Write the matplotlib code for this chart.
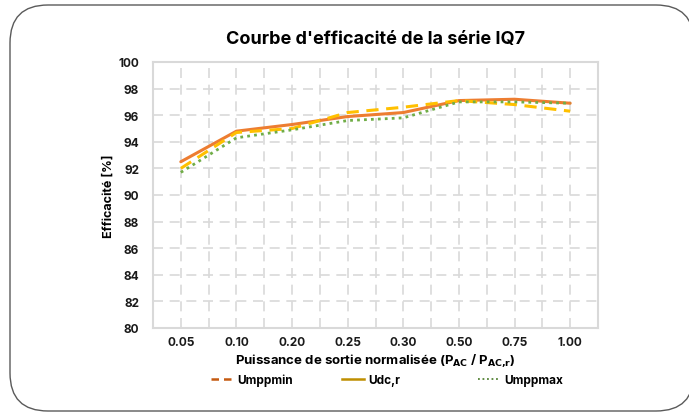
import matplotlib.pyplot as plt
from matplotlib.lines import Line2D
from matplotlib.patches import FancyBboxPatch

plt.rcParams['font.family'] = ['Inter', 'DejaVu Sans']

categories = ["0.05", "0.10", "0.20", "0.25", "0.30", "0.50", "0.75", "1.00"]
udc_r = [92.5, 94.8, 95.3, 95.9, 96.2, 97.1, 97.2, 96.9]
umppmin = [92.0, 94.7, 95.0, 96.2, 96.6, 97.1, 96.8, 96.3]
umppmax = [91.7, 94.3, 94.9, 95.6, 95.8, 97.0, 97.0, 96.9]
yticks = list(range(80, 101, 2))
legend_labels = ["Umppmin", "Udc,r", "Umppmax"]

fig = plt.figure(figsize=(6.89, 4.14), dpi=100)

# rounded frame drawn in pixel units
bg = fig.add_axes([0, 0, 1, 1])
bg.set_xlim(0, 689)
bg.set_ylim(414, 0)
bg.axis('off')
bg.add_patch(FancyBboxPatch((10, 6), 684, 406, boxstyle="round,pad=0,rounding_size=38",
                            fc='white', ec='#5a5a5a', lw=1.0))

ax = fig.add_axes([153/689, 85/414, 445/689, 266/414])
ax.set_facecolor('none')
x = list(range(len(categories)))

ax.plot(x, udc_r, color='#ED7D31', lw=2.2, solid_capstyle='round', zorder=3)
ax.plot(x, umppmin, color='#FFC000', lw=2.2, ls=(0, (4, 2.5)), zorder=3)
ax.plot(x, umppmax, color='#70AD47', lw=2.0, ls=(0, (1, 1.5)), zorder=3)

ax.set_xlim(-0.5, len(categories) - 0.5)
ax.set_ylim(80, 100)
ax.set_xticks(x)
ax.set_xticklabels(categories)
ax.set_xticks([i - 0.5 for i in range(len(categories) + 1)], minor=True)
ax.set_yticks(yticks)
ax.grid(True, which='both', color='#d9d9d9', lw=1.2, ls=(0, (6, 4)))
ax.tick_params(which='both', length=0)
ax.tick_params(axis='x', pad=6)
ax.tick_params(axis='y', pad=10)
for lab in ax.get_xticklabels() + ax.get_yticklabels():
    lab.set_fontweight('bold')
    lab.set_fontsize(8.5)
    lab.set_color('#1a1a1a')
for s in ax.spines.values():
    s.set_color('#d9d9d9')
    s.set_linewidth(1.5)

ax.set_title("Courbe d'efficacité de la série IQ7", fontsize=13, fontweight='bold', pad=14)
ax.set_xlabel(r"Puissance de sortie normalisée (P$_{\mathbf{AC}}$ / P$_{\mathbf{AC{,}r}}$)",
              fontsize=9.5, fontweight='bold', labelpad=2)
ax.set_ylabel("Efficacité [%]", fontsize=9, fontweight='bold', labelpad=3)

handles = [Line2D([], [], color='#C55A11', lw=1.8, ls=(0, (3, 2))),
           Line2D([], [], color='#BF8F00', lw=1.8),
           Line2D([], [], color='#548235', lw=1.3, ls=(0, (1, 1.5)))]
# fixed-width legend slots, like the original
slots = [211, 342, 478]
for h, lab, px in zip(handles, legend_labels, slots):
    fig.legend([h], [lab], loc='center left', bbox_to_anchor=(px/689, 1 - 381/414),
               frameon=False, borderpad=0, borderaxespad=0,
               handlelength=1.9, handletextpad=0.35,
               prop={'weight': 'bold', 'size': 8.5})

fig.savefig('out.png', dpi=100)
